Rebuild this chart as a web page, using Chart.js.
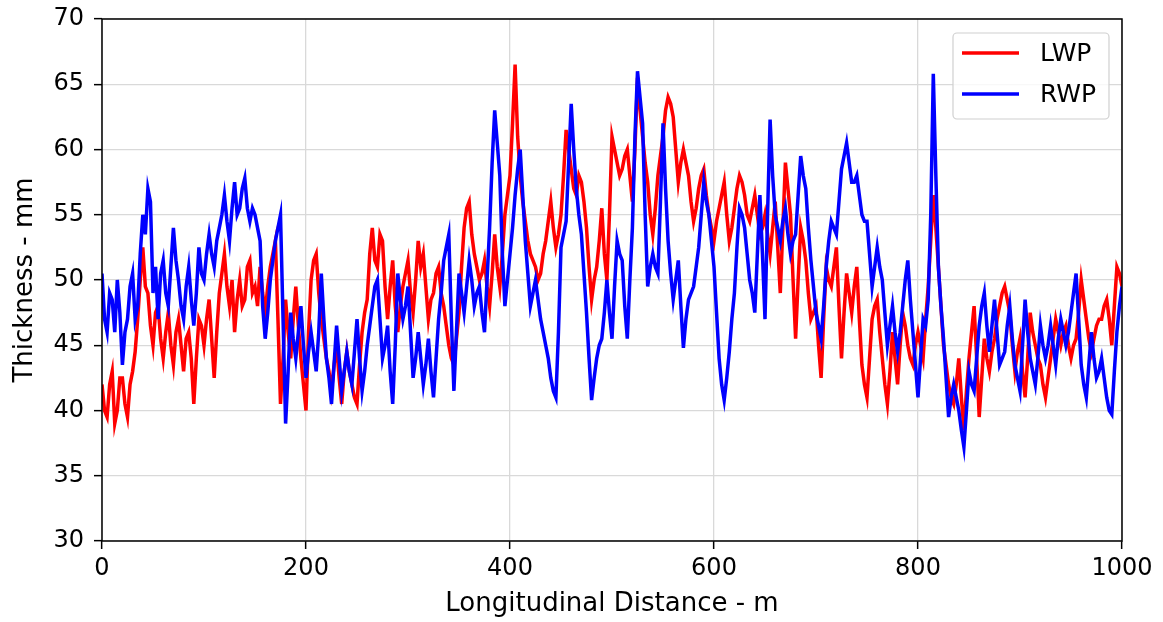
<!DOCTYPE html>
<html>
<head>
<meta charset="utf-8">
<script src="https://cdn.jsdelivr.net/npm/chart.js@4.4.1/dist/chart.umd.min.js"></script>
<style>
  html, body { margin: 0; padding: 0; background: #fff; }
  #wrap { width: 1163px; height: 622px; }
</style>
</head>
<body>
<div id="wrap"><canvas id="thicknessChart" width="1163" height="622"></canvas></div>
<script>
// 厚さデータ（2.5 m ごとに読み取り）
const stepM = 2.5;
const lwp = [
  42, 40, 39.5, 42, 43, 39, 40, 42.5, 42.5, 40.5, 39.5, 42, 43, 44.5, 47, 50, 52.5, 49.5, 49, 46.5,
  45, 47.5, 48, 45.5, 44, 46, 47.5, 45, 43.5, 46, 47, 45, 43, 45.5, 46, 44, 40.5, 44, 47, 46.5,
  45, 47, 48.5, 45.5, 42.5, 46, 49, 50.5, 52, 49.5, 48, 50, 46, 48.5, 50, 48, 48.5, 51, 51.5, 49,
  49.5, 48, 51, 49, 47.5, 49.5, 51, 52, 53, 47, 40.5, 44, 48.5, 46, 44, 47, 49.5, 46.5, 44, 42,
  40, 46, 50, 51.5, 52, 49, 47, 45.5, 44, 43, 41.5, 43.5, 45, 42.5, 40.5, 43, 44.5, 43, 42, 41,
  40.5, 43.5, 46, 47.5, 48.5, 52, 54, 51.5, 51, 53.5, 53, 49.5, 47, 49.5, 51.5, 48, 46, 48, 49.5, 50.5,
  51.5, 49, 47.5, 50, 53, 51, 52, 49.5, 47, 48.5, 49, 50.5, 51, 49, 48, 46.5, 45, 44, 43.5, 45.5,
  47.5, 51, 54, 55.5, 56, 53.5, 52, 51, 50, 50.5, 51.5, 49.5, 48, 50.5, 53.5, 51, 49.5, 52, 55, 56.5,
  58, 62, 66.5, 61, 58, 56, 54.5, 53, 52, 51.5, 51, 50, 50.5, 52, 53, 54.5, 56, 54, 52.5, 53.5,
  55, 58, 61.5, 60, 58.5, 57, 56.5, 58, 57.5, 56, 54, 51, 48.5, 50, 51, 53, 55.5, 52, 50, 55,
  61, 60, 59, 58, 58.5, 59.5, 60, 58, 56, 60, 65.5, 63, 61, 59, 57.5, 55, 53.5, 55.5, 58, 59.5,
  61, 63, 64, 63.5, 62.5, 60, 57.5, 59, 60, 59, 58, 56, 54.5, 55.5, 57, 58, 58.5, 56.5, 55, 54,
  53, 54.5, 55.5, 56.5, 57.5, 55, 53, 54, 55.5, 57, 58, 57.5, 56.5, 55, 54.5, 55.5, 56.5, 55, 53.5, 54,
  55, 53.5, 52, 54, 56, 52.5, 49, 54, 59, 57, 55, 50, 45.5, 50, 54, 53, 51.5, 49, 47, 47.5,
  48, 45, 42.5, 47, 51, 50, 49.5, 51, 52.5, 48, 44, 47.5, 50.5, 49, 47.5, 49.5, 51, 47, 43.5, 42,
  41, 44, 47, 48, 48.5, 46, 44, 42, 40.5, 43, 46, 44, 42, 45, 47.5, 46.5, 45, 44, 43.5, 45,
  46, 45, 44, 47, 49.5, 53, 56.5, 54, 51, 48, 45, 43.5, 42, 41, 40.5, 42, 44, 41, 38.5, 41.5,
  44, 46, 48, 44, 39.5, 42.5, 45.5, 44, 43, 44.5, 45.5, 47, 48, 49, 49.5, 48.5, 47.5, 45, 43, 44.5,
  45.5, 43, 41, 44, 47.5, 46, 45, 44, 43.5, 42, 41, 42.5, 44, 45.5, 47, 46, 45, 46, 46.5, 45,
  44, 45, 45.5, 47.5, 50, 48.5, 47, 45.5, 44.5, 45.5, 46.5, 47, 47, 48, 48.5, 47, 45, 48, 51, 50.5,
  49.5
];
const rwp = [
  50.5, 47, 46, 49, 48.5, 46, 50, 47.5, 43.5, 46, 47, 49.5, 50.5, 47, 48, 52, 55, 53.5, 57, 56,
  49, 51, 47, 50.5, 51.5, 49, 48, 51, 54, 51.5, 50, 48, 47, 49.5, 51, 48.5, 46.5, 49, 52.5, 50.5,
  50, 52, 53.5, 52, 51, 53, 54, 55, 56.5, 54.5, 53, 55.5, 57.5, 55, 55.5, 57, 57.8, 55.5, 54.5, 55.5,
  55, 54, 53, 48, 45.5, 47.5, 50, 51.5, 53, 54, 55, 47, 39, 43, 47.5, 45.5, 44, 46, 48, 45,
  42.5, 44.5, 46, 44.5, 43, 46, 50.5, 47, 44, 42.5, 40.5, 43.5, 46.5, 44, 41.5, 43, 44.5, 43, 42, 44.5,
  47, 44, 41.5, 43, 45, 46.5, 48, 49.5, 50, 47, 44, 45, 46.5, 43, 40.5, 45, 50.5, 48.5, 47, 48,
  49.5, 46, 42.5, 44, 46, 44, 42, 43.5, 45.5, 43, 41, 44, 47, 49, 51.5, 52.5, 53.5, 47, 41.5, 46,
  50.5, 49, 47.5, 49.5, 51.5, 50, 48, 49, 49.5, 47.5, 46, 50, 54, 59, 63, 60.5, 58, 52, 48, 50,
  52, 54, 56.5, 58.5, 60, 56.5, 53, 50.5, 48, 49, 50, 48.5, 47, 46, 45, 44, 42.5, 41.5, 41, 46,
  52.5, 53.5, 54.5, 59, 63.5, 60, 57, 55, 53.5, 50.5, 47.5, 44, 40.8, 42.5, 44, 45, 45.5, 47.5, 50, 47.5,
  45.5, 49.5, 53, 52, 51.5, 48, 45.5, 50, 54, 61, 66, 64, 62, 55, 49.5, 51, 52, 51, 50.5, 56,
  62, 57, 53, 50.5, 48.5, 50, 51.5, 48, 44.8, 47, 48.5, 49, 49.5, 51, 52.5, 55, 57.5, 56, 55, 53,
  51, 47.5, 44, 42, 40.8, 42.5, 44.5, 47, 49, 52.5, 55.5, 55, 54, 52, 50, 49, 47.5, 52, 56.5, 52,
  47, 55, 62.3, 58, 55, 54, 53, 54.5, 55.5, 53.5, 52, 53, 53.5, 56.5, 59.5, 58, 57, 54, 51.5, 49.5,
  47.5, 46.5, 45.5, 48, 51, 53, 54.5, 54, 53.5, 56, 58.5, 59.5, 60.5, 59, 57.5, 57.5, 58, 56.5, 55, 54.5,
  54.5, 52, 49.5, 51, 52.5, 51, 50, 47.5, 45, 46.5, 48, 46, 44.5, 46, 48, 50, 51.5, 48.5, 46, 43.5,
  41, 44, 47, 46.5, 48.5, 55, 65.8, 58, 51, 48, 45.5, 42.5, 39.5, 41, 42, 41, 40, 38.5, 37.2, 40,
  43, 42, 41.5, 44, 46.5, 48, 49, 46.5, 44.5, 46.5, 48.5, 46, 43.5, 44, 44.5, 46.5, 48, 45.5, 43.5, 42.5,
  41.5, 45, 48.5, 46, 44, 43, 42, 44, 46.5, 45, 44, 45, 46.5, 45, 43.5, 45.5, 47, 46, 45, 46,
  47.5, 49, 50.5, 47, 43.5, 42, 41, 43.5, 46, 44, 42.5, 43, 44, 42.5, 41, 40, 39.7, 43, 46, 48,
  49.5
];
const distance = lwp.map((_, i) => i * stepM);
const xTicks = [0, 200, 400, 600, 800, 1000];
const yTicks = [30, 35, 40, 45, 50, 55, 60, 65, 70];
const seriesNames = ['LWP', 'RWP'];
const seriesColors = ['#ff0000', '#0000ff'];

const FONT = "'DejaVu Sans', sans-serif";

// 枠線（四辺）と凡例を描く
const framePlugin = {
    id: 'frameAndLegend',
    afterDraw(chart) {
        const ctx = chart.ctx;
        const a = chart.chartArea;
        ctx.save();
        ctx.strokeStyle = '#000';
        ctx.lineWidth = 1.5;
        ctx.strokeRect(a.left, a.top, a.right - a.left, a.bottom - a.top);

        // 凡例
        const bx = a.right - 169, by = a.top + 14, bw = 156, bh = 86;
        ctx.beginPath();
        ctx.roundRect(bx, by, bw, bh, 4);
        ctx.fillStyle = 'rgba(255,255,255,0.8)';
        ctx.fill();
        ctx.strokeStyle = '#d0d0d0';
        ctx.lineWidth = 1.2;
        ctx.stroke();

        ctx.font = '25px ' + FONT;
        ctx.textBaseline = 'middle';
        seriesNames.forEach((name, i) => {
            const ly = by + 20 + i * 41;
            ctx.beginPath();
            ctx.moveTo(bx + 9, ly);
            ctx.lineTo(bx + 66, ly);
            ctx.strokeStyle = seriesColors[i];
            ctx.lineWidth = 3.5;
            ctx.stroke();
            ctx.fillStyle = '#000';
            ctx.fillText(name, bx + 87, ly + 1);
        });
        ctx.restore();
    }
};

function axisOpts(ticks, title, fitFn, tickPad, titlePad) {
    return {
        type: 'linear',
        min: ticks[0],
        max: ticks[ticks.length - 1],
        afterBuildTicks: axis => { axis.ticks = ticks.map(v => ({ value: v })); },
        afterFit: fitFn,
        ticks: { font: { family: FONT, size: 24 }, color: '#000', padding: tickPad,
                 autoSkip: false, maxRotation: 0, callback: v => String(v) },
        grid: { color: '#d9d9d9', lineWidth: 1.3, tickColor: '#000', tickLength: 8, tickWidth: 1.5 },
        border: { display: false },
        title: { display: true, text: title, color: '#000',
                 font: { family: FONT, size: 26 }, padding: titlePad }
    };
}

function renderChart() {
    const canvas = document.getElementById('thicknessChart');
    new Chart(canvas.getContext('2d'), {
        type: 'line',
        data: {
            datasets: [
                {
                    label: seriesNames[0],
                    data: distance.map((d, i) => ({ x: d, y: lwp[i] })),
                    borderColor: seriesColors[0],
                    borderWidth: 3.5,
                    pointRadius: 0,
                    order: 1
                },
                {
                    label: seriesNames[1],
                    data: distance.map((d, i) => ({ x: d, y: rwp[i] })),
                    borderColor: seriesColors[1],
                    borderWidth: 3.5,
                    pointRadius: 0,
                    order: 0
                }
            ]
        },
        options: {
            responsive: false,
            animation: false,
            layout: { padding: { top: 19, right: 41, left: 0, bottom: 0 } },
            plugins: { legend: { display: false }, tooltip: { enabled: false } },
            scales: {
                x: axisOpts(xTicks, 'Longitudinal Distance - m', s => {
                    s.height = 81; s.paddingLeft = 0; s.paddingRight = 0;
                }, 5, { top: 2, bottom: 2 }),
                y: axisOpts(yTicks, 'Thickness - mm', s => {
                    s.width = 102; s.paddingTop = 0; s.paddingBottom = 0;
                }, 10, { top: 10, bottom: 0 })
            }
        },
        plugins: [framePlugin]
    });
}

document.addEventListener('DOMContentLoaded', renderChart);
</script>
</body>
</html>
